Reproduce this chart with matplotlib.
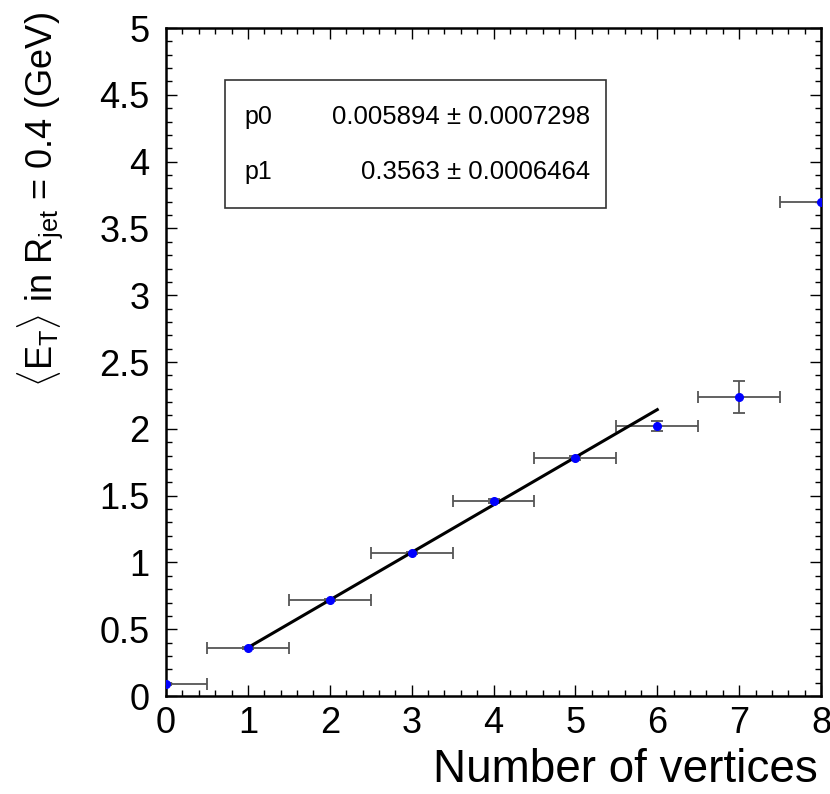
import numpy as np
import matplotlib
matplotlib.use("Agg")
import matplotlib.pyplot as plt
from matplotlib.ticker import MultipleLocator

plt.rcParams["font.family"] = ["Liberation Sans", "DejaVu Sans"]
plt.rcParams["mathtext.fontset"] = "custom"
plt.rcParams["mathtext.rm"] = "Liberation Sans"
plt.rcParams["mathtext.it"] = "Liberation Sans"

# mean ET per vertex multiplicity
n_vertices = [0, 1, 2, 3, 4, 5, 6, 7, 8]
mean_et = [0.09, 0.36, 0.72, 1.07, 1.46, 1.78, 2.02, 2.24, 3.70]
et_err = [0.005, 0.006, 0.008, 0.01, 0.012, 0.015, 0.035, 0.12, 0.0]
bin_halfwidth = [0.5] * 9

# linear fit p0 + p1*x over 1..6 vertices
p0, p0_err = 0.005894, 0.0007298
p1, p1_err = 0.3563, 0.0006464
fit_range = (1, 6)

fig = plt.figure(figsize=(8.3, 7.94), dpi=100)
ax = fig.add_axes([0.2, 0.1234, 0.7892, 0.8413])

ax.errorbar(n_vertices, mean_et, xerr=bin_halfwidth, yerr=et_err,
            fmt="none", ecolor="#555555", elinewidth=1.3, capsize=4, capthick=1.3, zorder=2)
ax.plot(n_vertices, mean_et, "o", color="#0000ff", markersize=5.5, zorder=4)

xf = np.linspace(fit_range[0], fit_range[1], 50)
ax.plot(xf, p0 + p1 * xf, color="black", lw=2.2, zorder=3)

ax.set_xlim(0, 8)
ax.set_ylim(0, 5)
ax.xaxis.set_major_locator(MultipleLocator(1))
ax.xaxis.set_minor_locator(MultipleLocator(0.2))
ax.yaxis.set_major_locator(MultipleLocator(0.5))
ax.yaxis.set_minor_locator(MultipleLocator(0.1))
ax.yaxis.set_major_formatter(matplotlib.ticker.FuncFormatter(lambda v, p: f"{v:g}"))
ax.tick_params(which="both", direction="in", top=True, right=True, width=1, labelsize=26)
ax.tick_params(which="major", length=8)
ax.tick_params(which="minor", length=4)
ax.tick_params(axis="x", pad=7)
ax.tick_params(axis="y", pad=12)
for s in ax.spines.values():
    s.set_linewidth(1.8)

fig.text(818 / 830, 1 - 770 / 794, "Number of vertices", ha="right", va="center", fontsize=33)
fig.text(40 / 830, 1 - 12 / 794,
         r"$\langle\mathrm{E_T}\rangle$ in R$_{\mathrm{jet}}$ = 0.4 (GeV)",
         rotation=90, ha="center", va="top", fontsize=26)

# fit parameter box
box = plt.Rectangle((0.0897, 0.7305), 0.5823, 0.1915, transform=ax.transAxes,
                    facecolor="white", edgecolor="#333333", lw=1.2, zorder=5)
ax.add_patch(box)
ax.text(0.12, 0.867, "p0", transform=ax.transAxes, fontsize=18, va="center", zorder=6)
ax.text(0.12, 0.785, "p1", transform=ax.transAxes, fontsize=18, va="center", zorder=6)
ax.text(0.647, 0.867, f"{p0} \u00b1 {p0_err}", transform=ax.transAxes, fontsize=18.5,
        ha="right", va="center", zorder=6)
ax.text(0.647, 0.785, f"{p1} \u00b1 {p1_err}", transform=ax.transAxes, fontsize=18.5,
        ha="right", va="center", zorder=6)

fig.savefig("out.png", dpi=100)
